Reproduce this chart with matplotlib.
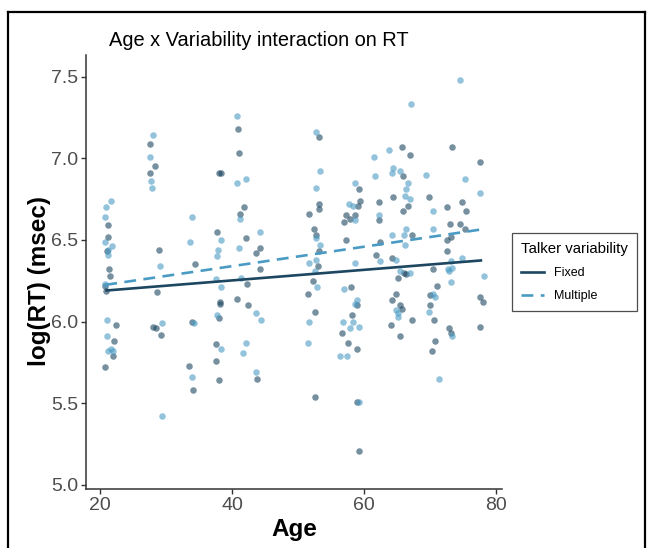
import matplotlib
matplotlib.use("Agg")
from matplotlib import pyplot as plt
from matplotlib.lines import Line2D

plt.rcParams['font.family'] = ['Liberation Sans', 'DejaVu Sans']

# Fixed talker (dark points)
fixed_age = [27.5, 28.3, 27.6, 38.1, 38.4, 21.2, 21.2, 21.1, 21.4, 21.5, 29.0, 34.4, 37.7, 20.8, 20.9,
             28.6, 22.4, 22.1, 22.0, 20.8, 28.0, 28.5, 29.2, 33.9, 33.5, 34.1, 38.2, 38.2, 38.1, 37.5, 37.6, 38.0,
             40.9, 41.0, 41.8, 41.2, 42.1, 44.2, 43.7, 44.2, 42.3, 53.2, 51.7, 53.2, 53.2, 52.4, 52.7, 53.2,
             53.1, 52.3, 59.2, 59.4, 59.1, 57.3, 58.6, 57.8, 57.0, 57.3, 58.0,
             65.7, 66.9, 73.3, 77.5, 65.9, 64.4, 69.9, 62.3, 66.6, 65.9, 72.5, 74.9, 75.4, 62.3, 73.0, 74.6,
             75.3, 67.2, 62.4, 72.6, 73.2, 61.8, 64.3, 72.6, 66.0, 66.3, 70.5, 65.1, 71.0,
             40.8, 42.4, 43.8, 51.5, 52.6, 52.6, 58.9, 58.2, 56.6, 57.5, 58.9, 58.9, 59.3,
             64.8, 64.3, 65.5, 65.7, 64.1, 67.2, 65.5, 70.0, 70.0, 70.6, 70.8, 70.3, 72.9, 73.2, 77.5, 78.0, 77.6]
fixed_rt = [7.09, 6.95, 6.91, 6.91, 6.91, 6.59, 6.52, 6.43, 6.32, 6.28, 6.44, 6.35, 6.55, 6.22, 6.19,
            6.18, 5.98, 5.88, 5.79, 5.72, 5.97, 5.96, 5.92, 6.00, 5.73, 5.58, 6.12, 6.11, 6.02, 5.86, 5.76, 5.64,
            7.18, 7.03, 6.70, 6.66, 6.51, 6.45, 6.42, 6.32, 6.23, 7.13, 6.66, 6.72, 6.69, 6.57, 6.53, 6.43,
            6.34, 6.25, 6.81, 6.74, 6.71, 6.65, 6.65, 6.63, 6.61, 6.50, 6.21,
            7.07, 7.02, 7.07, 6.98, 6.89, 6.76, 6.76, 6.73, 6.71, 6.68, 6.70, 6.73, 6.68, 6.62, 6.60, 6.60,
            6.57, 6.53, 6.49, 6.50, 6.52, 6.41, 6.39, 6.43, 6.30, 6.29, 6.32, 6.27, 6.22,
            6.14, 6.10, 5.65, 6.17, 6.06, 5.54, 6.10, 6.04, 5.93, 5.87, 5.83, 5.51, 5.21,
            6.17, 6.13, 6.10, 6.08, 5.98, 6.01, 5.91, 6.16, 6.10, 6.01, 5.88, 5.82, 5.96, 5.93, 6.15, 6.12, 5.97]

# Multiple talkers (light points)
multi_age = [28.0, 27.5, 27.8, 27.9, 21.6, 20.9, 20.8, 20.8, 21.8, 21.2, 21.2, 29.1, 34.0, 33.7, 38.3,
             37.9, 37.7, 37.5, 20.7,
             21.1, 21.0, 21.2, 21.7, 21.9, 29.4, 29.4, 34.2, 33.9, 38.3, 37.8, 38.4,
             40.8, 40.8, 42.1, 41.2, 41.0, 44.2, 41.4, 52.7, 53.4, 52.7, 52.7, 53.3, 52.7, 51.6, 52.5, 52.8,
             58.7, 57.7, 58.4, 58.7, 58.6, 57.0,
             74.5, 67.1, 63.8, 61.5, 61.7, 64.4, 64.2, 65.4, 69.4, 75.3, 66.6, 66.4, 66.2, 67.0, 77.5, 70.5,
             62.2, 66.3, 70.4, 64.2, 66.1, 66.2, 62.4, 64.9, 74.9, 73.2, 65.5, 67.0, 72.7, 72.9, 73.4, 73.2, 78.1,
             43.7, 44.4, 42.1, 41.6, 43.6, 51.7, 51.5, 59.0, 58.6, 56.8, 58.4, 57.9, 59.2, 56.4, 57.4, 59.3,
             64.9, 65.2, 65.2, 70.5, 70.8, 69.8, 71.3, 73.3]
multi_rt = [7.14, 7.01, 6.86, 6.82, 6.74, 6.70, 6.64, 6.49, 6.46, 6.44, 6.41, 6.34, 6.64, 6.49, 6.50,
            6.44, 6.40, 6.26, 6.23,
            6.01, 5.91, 5.82, 5.83, 5.82, 5.99, 5.42, 5.99, 5.66, 6.21, 6.04, 5.83,
            7.26, 6.85, 6.87, 6.63, 6.45, 6.55, 6.27, 7.16, 6.92, 6.82, 6.51, 6.47, 6.38, 6.36, 6.31, 6.21,
            6.85, 6.72, 6.71, 6.62, 6.36, 6.20,
            7.48, 7.33, 7.05, 7.01, 6.89, 6.94, 6.91, 6.92, 6.90, 6.87, 6.85, 6.81, 6.77, 6.75, 6.79, 6.68,
            6.65, 6.57, 6.57, 6.53, 6.53, 6.47, 6.37, 6.38, 6.39, 6.37, 6.31, 6.30, 6.32, 6.31, 6.33, 6.24, 6.28,
            6.05, 6.01, 5.87, 5.81, 5.69, 6.00, 5.87, 6.13, 6.11, 6.00, 6.00, 5.96, 5.97, 5.79, 5.79, 5.51,
            6.07, 6.05, 6.03, 6.17, 6.15, 6.06, 5.65, 5.91]

# fitted lines (end points)
line_age = [20.8, 77.9]
fixed_line = [6.19, 6.375]
multi_line = [6.225, 6.565]

dark = "#1d4661"
light = "#4a9bc4"

fig = plt.figure(figsize=(6.47, 5.48), dpi=100)
ax = fig.add_axes([86 / 647, 1 - 489 / 548, 416 / 647, 434 / 548])

ax.scatter(fixed_age, fixed_rt, s=22, color=dark, alpha=0.6, linewidths=0, zorder=2)
ax.scatter(multi_age, multi_rt, s=22, color=light, alpha=0.6, linewidths=0, zorder=2)

ax.plot(line_age, fixed_line, color=dark, lw=1.9, solid_capstyle='butt', zorder=3)
ax.plot(line_age, multi_line, color=light, lw=1.9, dashes=(4.5, 2.8), zorder=3)

ax.set_xlim(17.88, 80.9)
ax.set_ylim(4.9755, 7.632)
ax.set_xticks([20, 40, 60, 80])
ax.set_yticks([5.0, 5.5, 6.0, 6.5, 7.0, 7.5])
ax.set_yticklabels(["5.0", "5.5", "6.0", "6.5", "7.0", "7.5"])

for s in ["top", "right"]:
    ax.spines[s].set_visible(False)
for s in ["left", "bottom"]:
    ax.spines[s].set_color("#333333")
    ax.spines[s].set_linewidth(1.1)
ax.tick_params(colors="#333333", labelcolor="#4d4d4d", labelsize=14, length=3.5, width=1.0, pad=2)

ax.set_xlabel("Age", fontsize=17.5, fontweight="bold", labelpad=3)
ax.set_ylabel("log(RT) (msec)", fontsize=17.5, fontweight="bold")
ax.yaxis.set_label_coords(-0.084, 0.48)

fig.text(109 / 647, 1 - 40 / 548, "Age x Variability interaction on RT", fontsize=14.4,
         ha="left", va="center")

handles = [Line2D([], [], color=dark, lw=1.9),
           Line2D([], [], color=light, lw=1.9, dashes=(4.5, 2.8))]
leg = ax.legend(handles, ["Fixed", "Multiple"], title="Talker variability",
                loc="center left", bbox_to_anchor=(1.01, 0.5), frameon=True, fancybox=False,
                fontsize=9, title_fontsize=10.8, handlelength=1.8, borderpad=0.7,
                labelspacing=0.9, alignment="left")
leg.get_frame().set_edgecolor("#222222")
leg.get_frame().set_linewidth(0.9)

# figure border
bx0, by0, bx1 = 8 / 647, 1 - 12 / 548, 645 / 647
for xs, ys in [([bx0, bx1], [by0, by0]), ([bx0, bx0], [by0, 0]), ([bx1, bx1], [by0, 0])]:
    fig.add_artist(Line2D(xs, ys, transform=fig.transFigure, color="black", lw=1.6))

fig.savefig("out.png", dpi=100)
